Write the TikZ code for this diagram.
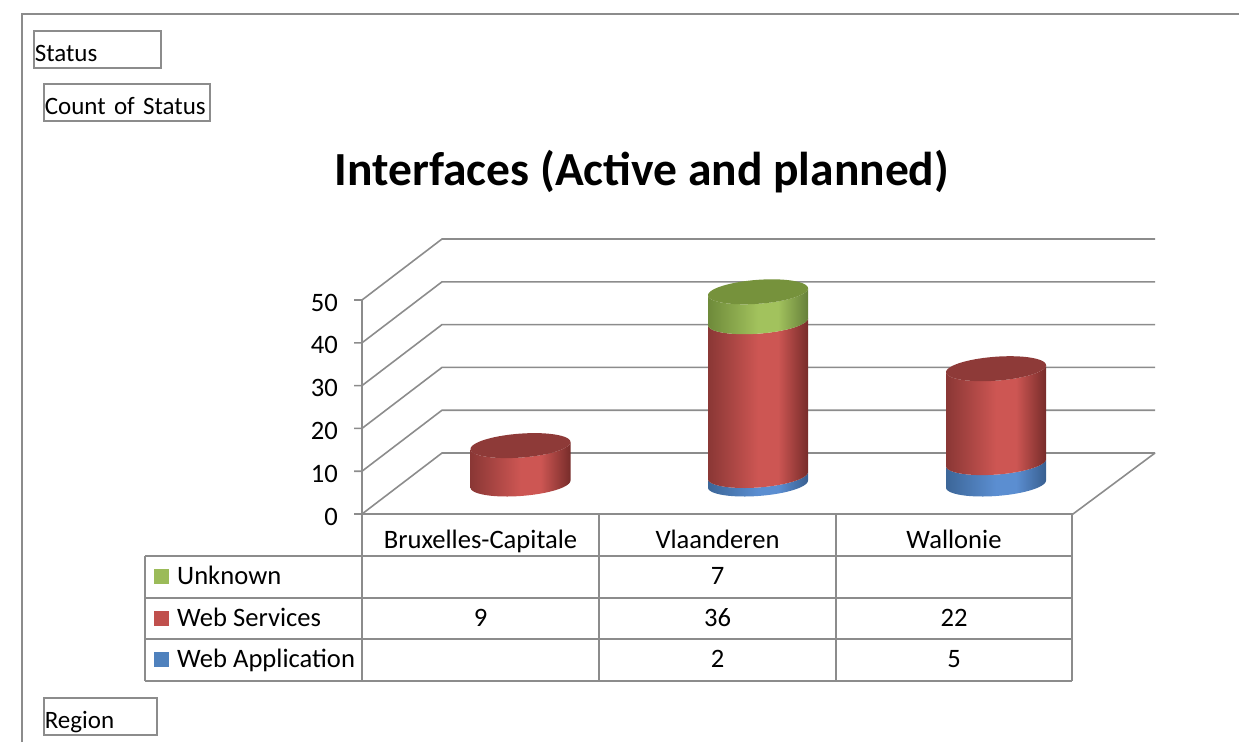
\documentclass[tikz,border=0pt]{standalone}
\usepackage{fontspec}
\setmainfont{Carlito}
\definecolor{gridgray}{HTML}{8C8C8C}
\definecolor{rdA}{HTML}{8A3735}
\definecolor{rdB}{HTML}{CD5653}
\definecolor{rdC}{HTML}{772C2A}
\definecolor{rdTop}{HTML}{8E3A38}
\definecolor{grA}{HTML}{6E8A3A}
\definecolor{grB}{HTML}{A2C25D}
\definecolor{grC}{HTML}{66803A}
\definecolor{grTop}{HTML}{76923C}
\definecolor{blA}{HTML}{3C6698}
\definecolor{blB}{HTML}{5B8ED1}
\definecolor{blC}{HTML}{385F90}
\definecolor{legGreen}{HTML}{9BBB59}
\definecolor{legRed}{HTML}{C0504D}
\definecolor{legBlue}{HTML}{4F81BD}
\pgfdeclarehorizontalshading{redcyl}{100bp}{color(0bp)=(rdA); color(25bp)=(rdA); color(50bp)=(rdB); color(60bp)=(rdB); color(75bp)=(rdC); color(100bp)=(rdC)}
\pgfdeclarehorizontalshading{greencyl}{100bp}{color(0bp)=(grA); color(25bp)=(grA); color(50bp)=(grB); color(60bp)=(grB); color(75bp)=(grC); color(100bp)=(grC)}
\pgfdeclarehorizontalshading{bluecyl}{100bp}{color(0bp)=(blA); color(25bp)=(blA); color(50bp)=(blB); color(60bp)=(blB); color(75bp)=(blC); color(100bp)=(blC)}
\newcommand\fs{\fontsize{26.6}{30}\selectfont}
\newcommand\fsb{\fontsize{25}{30}\selectfont}
% #1 cx, #2 bottom centre y, #3 top centre y, #4 shading
\newcommand\cylside[4]{%
  \shade[shading=#4] plot[domain=180:0,samples=37] ({#1+50*cos(\x)},{#2-3.5*cos(\x)+12*sin(\x)})
    -- plot[domain=0:180,samples=37] ({#1+50*cos(\x)},{#3-3.5*cos(\x)+12*sin(\x)}) -- cycle;}
\newcommand\cyltop[3]{%
  \fill[#3] plot[domain=0:360,samples=73] ({#1+50*cos(\x)},{#2-3.5*cos(\x)+12*sin(\x)}) -- cycle;}
\tikzset{
  frameline/.style={draw=gridgray, line width=2pt},
  gridline/.style={draw=gridgray, line width=1.6pt},
  fieldbox/.style={draw=gridgray, line width=1.6pt, anchor=north west, font=\fsb,
    inner xsep=1pt, inner ysep=0pt, align=left, text height=24pt, text depth=0pt},
  lbl/.style={font=\fs, inner sep=0pt},
  legsq/.style={minimum size=15pt, inner sep=0pt, anchor=north west}
}
\begin{document}
\begin{tikzpicture}[x=1pt,y=-1pt]
\useasboundingbox (0,0) rectangle (1239,742);
% outer frame
\draw[frameline] (22,742) -- (22,14) -- (1239,14);
% field boxes
\node[fieldbox, minimum width=127pt, minimum height=37pt, text width=125pt] (status) at (33,30) {\mbox{Status}};
\node[fieldbox, minimum width=166pt, minimum height=37pt, text width=164pt] (count) at (43,83) {\mbox{Count of Status}};
\node[fieldbox, minimum width=113pt, minimum height=37pt, text width=111pt] (region) at (43,697) {\mbox{Region}};
% title
\node[font=\fontsize{47.5}{50}\selectfont\bfseries, inner sep=0pt, anchor=base] (title) at (642,185) {Interfaces (Active and planned)};
% gridlines, walls
\draw[gridline] (362,300) -- (362,514);
\foreach \v/\lab in {0/0,1/10,2/20,3/30,4/40,5/50}{
  \pgfmathsetmacro\yf{514-42.8*\v}
  \draw[gridline] (354,\yf) -- (362,\yf) -- (442,\yf-61) -- (1155,\yf-61);
  \node[lbl, anchor=base east] (ax\v) at (338,\yf+11) {\lab};
}
\draw[gridline] (362,514) -- (1073,514) -- (1155,453);
% cylinders
\cylside{520.5}{484}{445.6}{redcyl}
\cyltop{520.5}{445.6}{rdTop}
\cylside{758}{484}{475.5}{bluecyl}
\cylside{758}{475.5}{321.7}{redcyl}
\cylside{758}{321.7}{291.8}{greencyl}
\cyltop{758}{291.8}{grTop}
\cylside{996}{484}{462.6}{bluecyl}
\cylside{996}{462.6}{368.7}{redcyl}
\cyltop{996}{368.7}{rdTop}
% data table
\foreach \xx in {362,599,836,1072}{ \draw[gridline] (\xx,514) -- (\xx,681); }
\foreach \yy in {556,598,639,681}{ \draw[gridline] (145,\yy) -- (1072,\yy); }
\draw[gridline] (145,556) -- (145,681);
\node[lbl, anchor=base] (hb) at (480.5,548) {Bruxelles-Capitale};
\node[lbl, anchor=base] (hv) at (717.5,548) {Vlaanderen};
\node[lbl, anchor=base] (hw) at (954,548) {Wallonie};
\node[legsq, fill=legGreen] (sqU) at (154,569) {};
\node[legsq, fill=legRed] (sqS) at (154,611) {};
\node[legsq, fill=legBlue] (sqA) at (154,652) {};
\node[lbl, anchor=base west] (rU) at (177,584) {Unknown};
\node[lbl, anchor=base west] (rS) at (177,626) {Web Services};
\node[lbl, anchor=base west] (rA) at (177,667) {Web Application};
\node[lbl, anchor=base] (vU) at (717.5,584) {7};
\node[lbl, anchor=base] (bS) at (480.5,626) {9};
\node[lbl, anchor=base] (vS) at (717.5,626) {36};
\node[lbl, anchor=base] (wS) at (954,626) {22};
\node[lbl, anchor=base] (vA) at (717.5,667) {2};
\node[lbl, anchor=base] (wA) at (954,667) {5};
\end{tikzpicture}
\end{document}
